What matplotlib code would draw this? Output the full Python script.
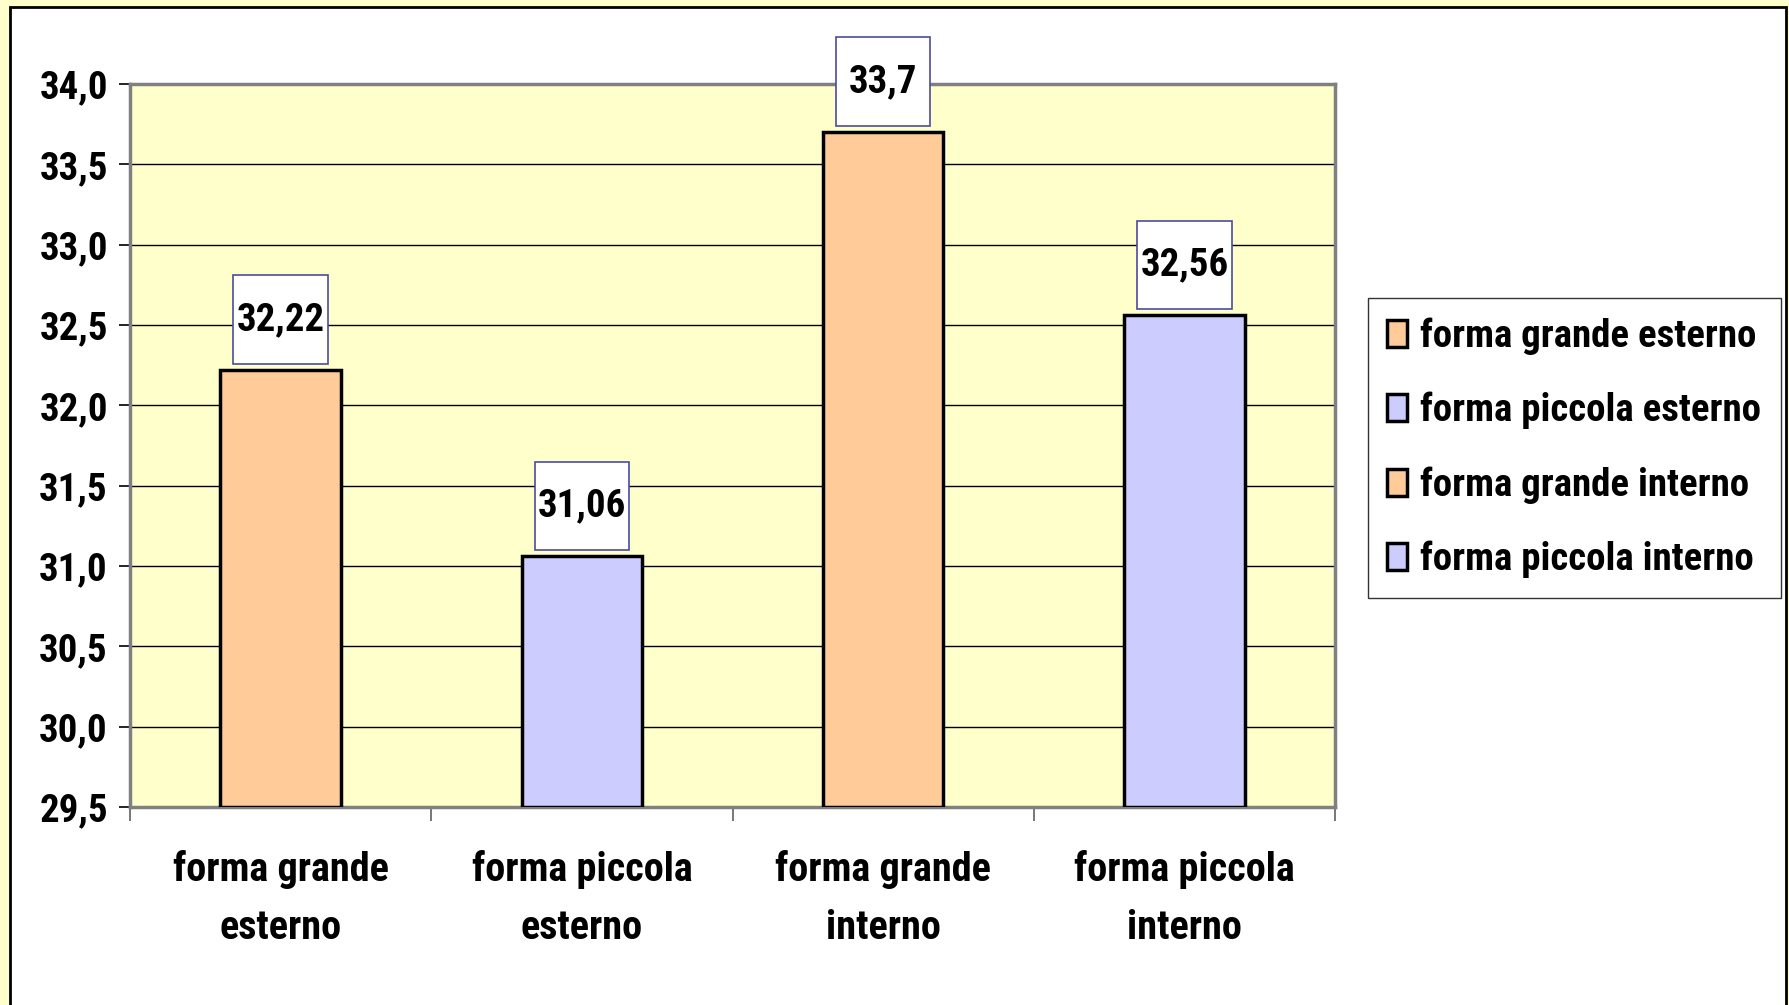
import matplotlib
matplotlib.use("Agg")
import matplotlib.pyplot as plt
from matplotlib.patches import Rectangle
from matplotlib.ticker import FuncFormatter, MultipleLocator, FixedLocator
from matplotlib import font_manager

categories = ["forma grande\nesterno", "forma piccola\nesterno", "forma grande\ninterno", "forma piccola\ninterno"]
legend_labels = ["forma grande esterno", "forma piccola esterno", "forma grande interno", "forma piccola interno"]
values = [32.22, 31.06, 33.7, 32.56]
value_labels = ["32,22", "31,06", "33,7", "32,56"]
colors = ["#FFCC99", "#CCCCFF", "#FFCC99", "#CCCCFF"]

bold_fonts = {f.name for f in font_manager.fontManager.ttflist
              if isinstance(f.weight, int) and f.weight >= 700 and f.style == "normal"}
prefs = ["Liberation Sans Narrow", "Arial Narrow", "Roboto Condensed", "Archivo Narrow", "PT Sans Narrow",
         "Fira Sans Condensed", "Open Sans Condensed", "IBM Plex Sans Condensed", "Encode Sans Condensed",
         "Barlow Semi Condensed", "Pragati Narrow", "Liberation Sans"]
chosen = [p for p in prefs if p in bold_fonts][:1]
FONT = chosen + ["Liberation Sans", "DejaVu Sans"]
plt.rcParams["font.family"] = FONT
plt.rcParams["font.weight"] = "bold"

W, H = 1789, 1005
fig = plt.figure(figsize=(W / 100, H / 100), dpi=100)
fig.patch.set_facecolor("#FFFFCC")

# white panel with black frame
panel = Rectangle((10 / W, -0.05), (1786 - 10) / W, 1 - 7 / H + 0.05, transform=fig.transFigure,
                  facecolor="white", edgecolor="black", linewidth=2, zorder=-10)
fig.patches.append(panel)

ax = fig.add_axes([130 / W, 1 - 807 / H, (1335 - 130) / W, (807 - 84) / H])
ax.set_zorder(1)
ax.set_facecolor("#FFFFCC")

x = list(range(len(values)))
for i, (v, c, lab) in enumerate(zip(values, colors, legend_labels)):
    ax.bar(i, v - 29.5, bottom=29.5, width=0.4, color=c, edgecolor="black", linewidth=2.5,
           label=lab, zorder=3)

ax.set_ylim(29.5, 34.0)
ax.set_xlim(-0.5, 3.5)
ax.yaxis.set_major_locator(MultipleLocator(0.5))
ax.yaxis.set_major_formatter(FuncFormatter(lambda v, p: f"{v:.1f}".replace(".", ",")))
ax.grid(axis="y", color="black", linewidth=1, zorder=1)
ax.set_axisbelow(True)

ax.xaxis.set_major_locator(FixedLocator([-0.5, 0.5, 1.5, 2.5, 3.5]))
ax.xaxis.set_major_formatter(FuncFormatter(lambda v, p: ""))
ax.xaxis.set_minor_locator(FixedLocator(x))
ax.set_xticks(x, categories, minor=True)
ax.tick_params(axis="x", which="minor", length=0, pad=31, labelsize=29)
ax.tick_params(axis="x", which="major", length=10, width=1.2, color="#606060")
ax.tick_params(axis="y", length=8, width=1.2, labelsize=28, pad=8, color="black")
for lbl in ax.get_xticklabels(minor=True):
    lbl.set_fontweight("bold")
    lbl.set_linespacing(1.65)
for lbl in ax.get_yticklabels():
    lbl.set_fontweight("bold")

for s in ax.spines.values():
    s.set_color("#808080")
    s.set_linewidth(2.5)

# data label boxes
for i, (v, t) in enumerate(zip(values, value_labels)):
    box = Rectangle((i - 0.157, v + 0.04), 0.314, 0.55, facecolor="white", edgecolor="#4B4BA0",
                    linewidth=1.2, zorder=5, clip_on=False)
    ax.add_patch(box)
    ax.text(i, v + 0.04 + 0.275, t, ha="center", va="center", fontsize=28, fontweight="bold",
            zorder=6, clip_on=False)

leg = ax.legend(loc="upper left", bbox_to_anchor=(1368 / W, 1 - 298 / H), bbox_transform=fig.transFigure,
                fontsize=28, frameon=True, fancybox=False, edgecolor="black", handlelength=0.5,
                handleheight=0.7, handletextpad=0.35, labelspacing=0.95, borderpad=0.5,
                borderaxespad=0)
leg.get_frame().set_linewidth(1)
for t in leg.get_texts():
    t.set_fontweight("bold")

fig.savefig("out.png", dpi=100, facecolor=fig.get_facecolor())
